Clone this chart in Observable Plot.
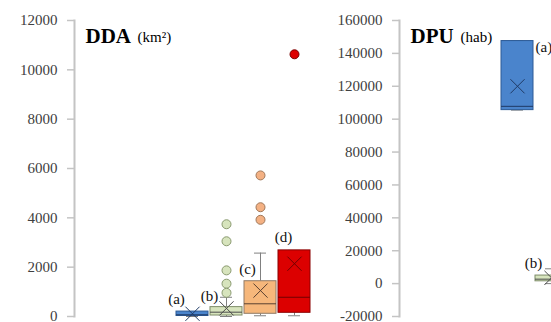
<!DOCTYPE html>
<html><head><meta charset="utf-8">
<script src="https://cdn.jsdelivr.net/npm/d3@7"></script>
<script src="https://cdn.jsdelivr.net/npm/@observablehq/plot@0.6"></script>
<style>
body{margin:0;background:#fff}
#wrap{position:relative;width:551px;height:322px;overflow:hidden;background:#fff}
#wrap svg{position:absolute;top:0;background:transparent}
</style>
</head><body><div id="wrap"></div>
<script>
// ---- data ----
const categories = ["(a)", "(b)", "(c)", "(d)"];

// DDA (km²)
const ddaTicks = [0, 2000, 4000, 6000, 8000, 10000, 12000];
const ddaMin    = [0,   0,    30,   30];
const ddaQ1     = [20,  40,   110,  150];
const ddaMedian = [70,  175,  515,  780];
const ddaQ3     = [200, 380,  1430, 2680];
const ddaMax    = [200, 780,  2570, 2680];
const ddaMean   = [110, 330,  1050, 2140];
const ddaOutCat = ["(b)", "(b)", "(b)", "(b)", "(b)", "(c)", "(c)", "(c)", "(d)"];
const ddaOutVal = [3740, 3050, 1870, 1330, 960, 5720, 4430, 3920, 10630];

// DPU (hab) — only (a) and (b) are visible in the picture
const dpuTicks = [-20000, 0, 20000, 40000, 60000, 80000, 100000, 120000, 140000, 160000];
const dpuCats   = ["(a)", "(b)"];
const dpuMin    = [105500, 0];
const dpuQ1     = [105500, 1400];
const dpuMedian = [107800, 2700];
const dpuQ3     = [147500, 4900];
const dpuMax    = [147500, 9000];
const dpuMean   = [120000, 3500];

// ---- styles ----
const boxFill   = {"(a)": "#4a84cc", "(b)": "#d7e4bd", "(c)": "#f6b77b", "(d)": "#dc0000"};
const boxStroke = {"(a)": "#2c5a96", "(b)": "#7d8c68", "(c)": "#8f7a66", "(d)": "#8a0000"};
const markStroke= {"(a)": "#1f3a66", "(b)": "#4a4a4a", "(c)": "#5a4030", "(d)": "#700000"};
const outFill   = {"(b)": "#d7e4bd", "(c)": "#f4b183", "(d)": "#dd0000"};
const outStroke = {"(b)": "#8a9a70", "(c)": "#a0785a", "(d)": "#7a0000"};

function rows(cats, mn, q1, md, q3, mx, mean) {
  return cats.map((c, i) => ({cat: c, min: mn[i], q1: q1[i], median: md[i], q3: q3[i], max: mx[i], mean: mean[i]}));
}

function panel({title, unit, unitDx, ticks, data, outliers, labelStyle}) {
  const font = "Liberation Serif, Times New Roman, serif";
  const lo = d3.min(ticks), hi = d3.max(ticks);
  return Plot.plot({
    width: 551, height: 322,
    marginLeft: 74, marginRight: 139, marginTop: 20, marginBottom: 6,
    style: {fontFamily: font, background: "transparent", overflow: "visible"},
    x: {domain: categories, paddingInner: 0.067, paddingOuter: 2.96, axis: null},
    y: {domain: [lo, hi], axis: null},
    marks: [
      Plot.frame({anchor: "left", stroke: "#c4c4c4", strokeWidth: 2}),
      Plot.axisY({ticks, tickSize: 7, tickPadding: 10, stroke: "#c4c4c4", strokeWidth: 1.5,
        fontSize: 15, fill: "#404040", tickFormat: d => String(d)}),
      Plot.text([title], {frameAnchor: "top-left", dx: 11, dy: 8, textAnchor: "start",
        fontSize: 21, fontWeight: "bold", fill: "#000"}),
      Plot.text([unit], {frameAnchor: "top-left", dx: unitDx, dy: 11, textAnchor: "start",
        fontSize: 15, fill: "#000"}),
      // whiskers
      Plot.ruleX(data, {x: "cat", y1: "min", y2: "q1", stroke: "#808080", strokeWidth: 1}),
      Plot.ruleX(data, {x: "cat", y1: "q3", y2: "max", stroke: "#808080", strokeWidth: 1}),
      Plot.tickY(data, {x: "cat", y: "min", stroke: "#808080", insetLeft: 10, insetRight: 10}),
      Plot.tickY(data, {x: "cat", y: "max", stroke: "#808080", insetLeft: 10, insetRight: 10}),
      // boxes
      Plot.barY(data, {x: "cat", y1: "q1", y2: "q3", fill: d => boxFill[d.cat], stroke: d => boxStroke[d.cat], strokeWidth: 1}),
      Plot.tickY(data, {x: "cat", y: "median", stroke: d => markStroke[d.cat], strokeWidth: 1}),
      Plot.dot(data, {x: "cat", y: "mean", symbol: "times", r: 6.5, stroke: d => markStroke[d.cat], strokeWidth: 1}),
      // outliers
      Plot.dot(outliers, {x: "cat", y: "v", r: 4.5, fill: d => outFill[d.cat], stroke: d => outStroke[d.cat], strokeWidth: 1}),
      // labels
      Plot.text(data, {x: "cat", y: "q3", text: "cat", fontSize: 15, fill: "#111",
        dx: d => 0, textAnchor: "middle"}),
    ].slice(0, -1).concat(data.map(d => Plot.text([d], {x: "cat", y: "q3", text: "cat",
        fontSize: 15, fill: "#111", dx: labelStyle[d.cat][0], dy: labelStyle[d.cat][1],
        textAnchor: labelStyle[d.cat][2]})))
  });
}

const wrap = document.getElementById("wrap");

const left = panel({
  title: "DDA", unit: "(km²)", unitDx: 63, ticks: ddaTicks,
  data: rows(categories, ddaMin, ddaQ1, ddaMedian, ddaQ3, ddaMax, ddaMean),
  outliers: ddaOutCat.map((c, i) => ({cat: c, v: ddaOutVal[i]})),
  labelStyle: {"(a)": [-16, -12, "middle"], "(b)": [-17, -11, "middle"], "(c)": [-13, -12, "middle"], "(d)": [-11, -13, "middle"]}
});
left.style.left = "0px";
wrap.appendChild(left);

const right = panel({
  title: "DPU", unit: "(hab)", unitDx: 61, ticks: dpuTicks,
  data: rows(dpuCats, dpuMin, dpuQ1, dpuMedian, dpuQ3, dpuMax, dpuMean),
  outliers: [],
  labelStyle: {"(a)": [18, 6, "start"], "(b)": [-18, -12, "middle"]}
});
right.style.left = "325px";
wrap.appendChild(right);
</script>
</body></html>
